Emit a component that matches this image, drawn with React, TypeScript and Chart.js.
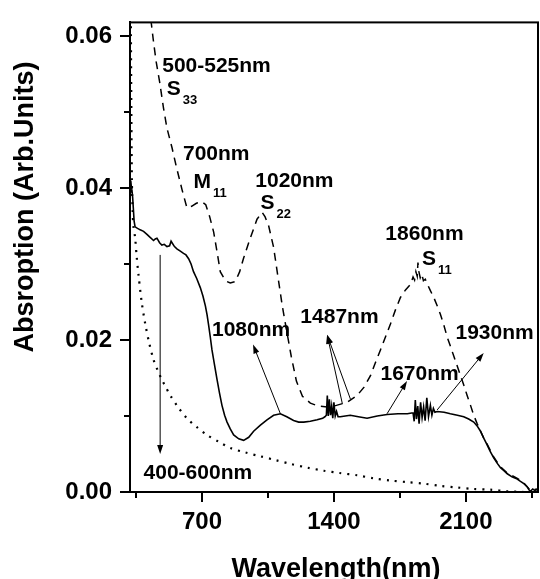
import React, { useEffect, useRef } from "react";
import { Chart, registerables } from "chart.js";

Chart.register(...registerables);

// ---- data (wavelength in nm, absorption in arb. units) ----
const dashedNm = [425, 431, 443, 457, 475, 496, 514, 541, 564, 594, 620, 645, 670, 700, 720, 740, 762, 780, 797, 824, 850, 877, 900, 921, 956, 992, 1019, 1035, 1054, 1080, 1105, 1126, 1148, 1174, 1201, 1233, 1275, 1318, 1364, 1413, 1470, 1523, 1560, 1594, 1620, 1647, 1675, 1700, 1727, 1753, 1780, 1806, 1820, 1828, 1835, 1842, 1846, 1850, 1858, 1866, 1875, 1885, 1895, 1912, 1930, 1948, 1965, 1983, 2001, 2018, 2036, 2054, 2072, 2090, 2107, 2125, 2142, 2160, 2178, 2195, 2213, 2248, 2284, 2320, 2373, 2408, 2443, 2478];
const dashedAbs = [0.0640, 0.0617, 0.0592, 0.0566, 0.0540, 0.0505, 0.0479, 0.0453, 0.0428, 0.0398, 0.0374, 0.0376, 0.0380, 0.0382, 0.0378, 0.0363, 0.0342, 0.0316, 0.0290, 0.0278, 0.0275, 0.0277, 0.0290, 0.0308, 0.0334, 0.0359, 0.0368, 0.0362, 0.0350, 0.0322, 0.0280, 0.0245, 0.0214, 0.0178, 0.0146, 0.0126, 0.0117, 0.0113, 0.0112, 0.0114, 0.0118, 0.0127, 0.0138, 0.0153, 0.0170, 0.0187, 0.0205, 0.0221, 0.0240, 0.0256, 0.0266, 0.0273, 0.0283, 0.0279, 0.0290, 0.0284, 0.0302, 0.0291, 0.0282, 0.0287, 0.0278, 0.0280, 0.0274, 0.0265, 0.0256, 0.0245, 0.0234, 0.0220, 0.0204, 0.0192, 0.0179, 0.0166, 0.0153, 0.0140, 0.0127, 0.0114, 0.0101, 0.0090, 0.0080, 0.0071, 0.0063, 0.0046, 0.0033, 0.0025, 0.0018, 0.0012, 0.0002, 0.0004];

const solidNm = [319, 322, 325, 328, 332, 336, 340, 345, 358, 372, 390, 408, 425, 443, 452, 461, 475, 487, 500, 514, 528, 536, 541, 554, 567, 585, 602, 615, 629, 642, 655, 672, 691, 705, 718, 727, 735, 744, 753, 766, 780, 793, 806, 820, 833, 850, 868, 895, 921, 948, 974, 1010, 1045, 1080, 1116, 1150, 1186, 1213, 1240, 1275, 1311, 1340, 1352, 1360, 1365, 1370, 1376, 1382, 1388, 1394, 1400, 1407, 1414, 1422, 1434, 1460, 1487, 1530, 1576, 1630, 1682, 1740, 1790, 1812, 1820, 1826, 1832, 1838, 1845, 1852, 1860, 1868, 1876, 1884, 1893, 1902, 1912, 1920, 1928, 1936, 1948, 1985, 2018, 2055, 2089, 2115, 2142, 2160, 2178, 2195, 2213, 2230, 2248, 2266, 2284, 2302, 2320, 2345, 2373, 2390, 2408, 2425, 2435, 2443, 2455, 2465, 2478];
const solidAbs = [0.0395, 0.0410, 0.0402, 0.0398, 0.0388, 0.0372, 0.0356, 0.0349, 0.0347, 0.0345, 0.0343, 0.0339, 0.0335, 0.0331, 0.0333, 0.0334, 0.0328, 0.0325, 0.0326, 0.0323, 0.0324, 0.0330, 0.0328, 0.0323, 0.0320, 0.0317, 0.0314, 0.0312, 0.0307, 0.0300, 0.0290, 0.0281, 0.0269, 0.0258, 0.0245, 0.0233, 0.0220, 0.0204, 0.0187, 0.0168, 0.0148, 0.0130, 0.0114, 0.0101, 0.0092, 0.0083, 0.0075, 0.0070, 0.0068, 0.0072, 0.0080, 0.0088, 0.0095, 0.0101, 0.0103, 0.0099, 0.0094, 0.0092, 0.0092, 0.0093, 0.0095, 0.0097, 0.0099, 0.0101, 0.0127, 0.0100, 0.0122, 0.0101, 0.0113, 0.0097, 0.0118, 0.0100, 0.0106, 0.0099, 0.0099, 0.0100, 0.0101, 0.0099, 0.0097, 0.0100, 0.0102, 0.0103, 0.0103, 0.0104, 0.0104, 0.0093, 0.0121, 0.0096, 0.0113, 0.0090, 0.0118, 0.0098, 0.0112, 0.0094, 0.0124, 0.0099, 0.0114, 0.0101, 0.0110, 0.0105, 0.0106, 0.0105, 0.0103, 0.0101, 0.0099, 0.0096, 0.0092, 0.0087, 0.0080, 0.0071, 0.0062, 0.0053, 0.0045, 0.0038, 0.0032, 0.0028, 0.0024, 0.0020, 0.0017, 0.0014, 0.0011, 0.0007, 0.0003, 0.0001, 0.0004, 0.0002, 0.0003];

const dottedNm = [320, 324, 328, 332, 336, 345, 354, 363, 380, 399, 420, 443, 465, 487, 510, 532, 575, 620, 670, 727, 790, 850, 930, 1010, 1090, 1169, 1260, 1346, 1430, 1523, 1610, 1700, 1790, 1877, 1965, 2054, 2140, 2231, 2320, 2408, 2480];
const dottedAbs = [0.0750, 0.0550, 0.0410, 0.0370, 0.0350, 0.0335, 0.0308, 0.0286, 0.0250, 0.0221, 0.0196, 0.0174, 0.0160, 0.0148, 0.0137, 0.0127, 0.0111, 0.0097, 0.0086, 0.0075, 0.0066, 0.0058, 0.0052, 0.0047, 0.0042, 0.0037, 0.0032, 0.0028, 0.0025, 0.0022, 0.0018, 0.0015, 0.0013, 0.0011, 0.0008, 0.0006, 0.0004, 0.0003, 0.0001, 0.0000, 0.0000];

const xTickValues = [350, 700, 1050, 1400, 1750, 2100, 2450];
const xTickLabels = ["", "700", "", "1400", "", "2100", ""];
const yTickValues = [0, 0.01, 0.02, 0.03, 0.04, 0.05, 0.06];
const yTickLabels = ["0.00", "", "0.02", "", "0.04", "", "0.06"];

const xTitle = "Wavelength(nm)";
const yTitle = "Absroption (Arb.Units)";

// annotation labels: main text, subscript, anchor (nm, abs) = left / baseline
const labelTexts = ["500-525nm", "S", "700nm", "M", "1020nm", "S", "1860nm", "S", "1080nm", "1487nm", "1670nm", "1930nm", "400-600nm"];
const labelSubs = ["", "33", "", "11", "", "22", "", "11", "", "", "", "", ""];
const labelNm = [489, 513, 599, 655, 983, 1010, 1673, 1868, 753, 1222, 1647, 2045, 390];
const labelAbs = [0.0553, 0.0523, 0.0437, 0.0400, 0.0402, 0.0373, 0.0331, 0.0299, 0.0205, 0.0222, 0.0148, 0.0202, 0.0017];

// arrows: tail (nm, abs) -> head (nm, abs)
const arrowTailNm = [1116, 1445, 1488, 1682, 1948, 478];
const arrowTailAbs = [0.0103, 0.0116, 0.0122, 0.0103, 0.0108, 0.0312];
const arrowHeadNm = [971, 1364, 1364, 1788, 2195, 478];
const arrowHeadAbs = [0.0194, 0.0207, 0.0207, 0.0146, 0.0183, 0.0050];

const FAMILY = "'Liberation Sans', Arial, sans-serif";

const toXY = (xs: number[], ys: number[]) => xs.map((x, i) => ({ x, y: ys[i] }));

const overlay = {
  id: "overlay",
  afterDraw(chart: any) {
    const { ctx, chartArea: a } = chart;
    const xs = chart.scales.x;
    const ys = chart.scales.y;
    ctx.save();
    ctx.strokeStyle = "#000";
    ctx.fillStyle = "#000";
    // frame
    ctx.lineWidth = 2;
    ctx.strokeRect(a.left, a.top, a.right - a.left, a.bottom - a.top);
    // minor ticks
    ctx.beginPath();
    xTickValues.forEach((v, i) => {
      if (xTickLabels[i] !== "") return;
      const px = Math.round(xs.getPixelForValue(v));
      ctx.moveTo(px, a.bottom);
      ctx.lineTo(px, a.bottom + 6);
    });
    yTickValues.forEach((v, i) => {
      if (yTickLabels[i] !== "") return;
      const py = Math.round(ys.getPixelForValue(v));
      ctx.moveTo(a.left, py);
      ctx.lineTo(a.left - 6, py);
    });
    ctx.stroke();

    // arrows
    ctx.lineWidth = 1;
    arrowTailNm.forEach((_, i) => {
      const x0 = xs.getPixelForValue(arrowTailNm[i]);
      const y0 = ys.getPixelForValue(arrowTailAbs[i]);
      const x1 = xs.getPixelForValue(arrowHeadNm[i]);
      const y1 = ys.getPixelForValue(arrowHeadAbs[i]);
      const ang = Math.atan2(y1 - y0, x1 - x0);
      const L = 9, W = 3;
      ctx.beginPath();
      ctx.moveTo(x0, y0);
      ctx.lineTo(x1 - Math.cos(ang) * (L - 1), y1 - Math.sin(ang) * (L - 1));
      ctx.stroke();
      ctx.beginPath();
      ctx.moveTo(x1, y1);
      ctx.lineTo(x1 - Math.cos(ang) * L - Math.sin(ang) * W, y1 - Math.sin(ang) * L + Math.cos(ang) * W);
      ctx.lineTo(x1 - Math.cos(ang) * L + Math.sin(ang) * W, y1 - Math.sin(ang) * L - Math.cos(ang) * W);
      ctx.closePath();
      ctx.fill();
    });

    // labels
    ctx.textAlign = "left";
    ctx.textBaseline = "alphabetic";
    labelTexts.forEach((t, i) => {
      const px = xs.getPixelForValue(labelNm[i]);
      const py = ys.getPixelForValue(labelAbs[i]);
      ctx.font = `bold 21px ${FAMILY}`;
      ctx.fillText(t, px, py);
      if (labelSubs[i]) {
        const w = ctx.measureText(t).width;
        ctx.font = `bold 13px ${FAMILY}`;
        ctx.fillText(labelSubs[i], px + w + 2, py + 9);
      }
    });

    // axis titles
    ctx.font = `bold 27px ${FAMILY}`;
    ctx.textAlign = "center";
    ctx.fillText(xTitle, (a.left + a.right) / 2 + 2, 577);
    ctx.translate(33, 207);
    ctx.rotate(-Math.PI / 2);
    ctx.fillText(yTitle, 0, 0);
    ctx.restore();
  },
};

export default function App() {
  const ref = useRef<HTMLCanvasElement>(null);
  useEffect(() => {
    document.body.style.margin = "0";
    const tickFont = { family: FAMILY, size: 24, weight: "bold" as const };
    const chart = new Chart(ref.current as HTMLCanvasElement, {
      type: "line",
      data: {
        datasets: [
          {
            data: toXY(dashedNm, dashedAbs),
            borderColor: "#000",
            borderWidth: 1.5,
            borderDash: [8, 6],
            pointRadius: 0,
            tension: 0,
            fill: false,
          },
          {
            data: toXY(solidNm, solidAbs),
            borderColor: "#000",
            borderWidth: 1.6,
            pointRadius: 0,
            tension: 0,
            fill: false,
          },
          {
            data: toXY(dottedNm, dottedAbs),
            borderColor: "#000",
            borderWidth: 2.2,
            borderDash: [2, 6],
            pointRadius: 0,
            tension: 0.3,
            fill: false,
          },
        ],
      },
      options: {
        animation: false,
        responsive: false,
        devicePixelRatio: 1,
        layout: { padding: { top: 12, right: 2, left: 0, bottom: 0 } },
        plugins: { legend: { display: false }, tooltip: { enabled: false } },
        scales: {
          x: {
            type: "linear",
            min: 318,
            max: 2483,
            afterBuildTicks: (s: any) => {
              s.ticks = xTickValues.map((v) => ({ value: v }));
            },
            afterFit: (s: any) => {
              s.height = 87;
            },
            ticks: {
              autoSkip: false,
              maxRotation: 0,
              padding: 6,
              color: "#000",
              font: tickFont,
              callback: (_v: any, i: number) => xTickLabels[i],
            },
            grid: {
              drawOnChartArea: false,
              drawTicks: true,
              tickLength: 10,
              lineWidth: 2,
              color: (c: any) => (xTickLabels[c.index] ? "#000" : "rgba(0,0,0,0)"),
            },
            border: { display: true, color: "#000", width: 2 },
          },
          y: {
            type: "linear",
            min: 0,
            max: 0.0618,
            afterBuildTicks: (s: any) => {
              s.ticks = yTickValues.map((v) => ({ value: v }));
            },
            afterFit: (s: any) => {
              s.width = 130;
            },
            ticks: {
              autoSkip: false,
              padding: 8,
              color: "#000",
              font: tickFont,
              callback: (_v: any, i: number) => yTickLabels[i],
            },
            grid: {
              drawOnChartArea: false,
              drawTicks: true,
              tickLength: 10,
              lineWidth: 2,
              color: (c: any) => (yTickLabels[c.index] ? "#000" : "rgba(0,0,0,0)"),
            },
            border: { display: true, color: "#000", width: 2 },
          },
        },
      },
      plugins: [overlay],
    });
    return () => chart.destroy();
  }, []);
  return (
    <div style={{ width: 540, height: 579 }}>
      <canvas ref={ref} width={540} height={579} style={{ display: "block" }} />
    </div>
  );
}
